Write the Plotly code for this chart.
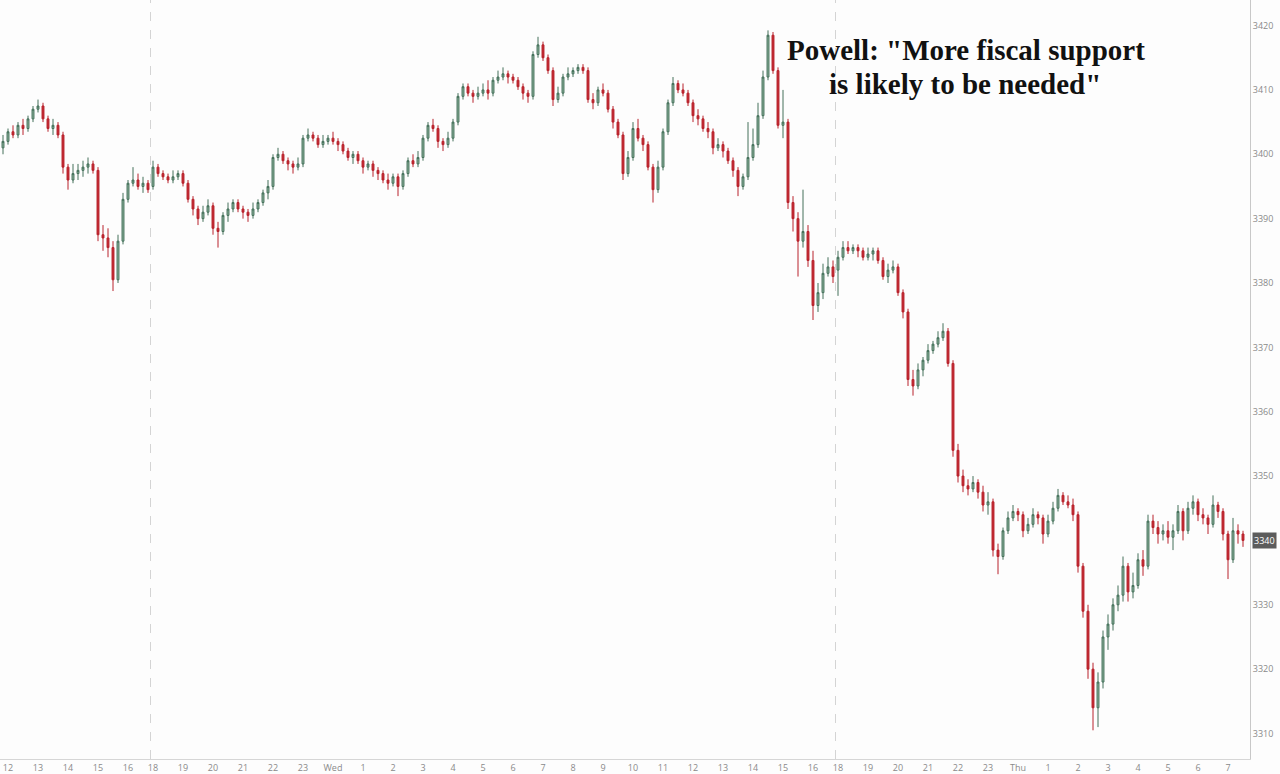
import pandas as pd
import plotly.graph_objects as go

# ---- data (10-minute bars) ----
opens = [
3401.0,3402.0,3403.5,3403.0,3404.5,3404.0,3405.5,3407.0,3407.5,3405.5,
3404.0,3404.5,3403.0,3398.0,3396.0,3397.0,3397.5,3398.0,3398.5,3397.5,
3387.5,3387.0,3385.5,3380.5,3386.5,3393.0,3395.5,3396.0,3395.0,3395.5,
3395.0,3398.0,3397.0,3396.5,3396.0,3396.5,3397.0,3395.5,3393.0,3391.5,
3390.0,3391.0,3392.0,3388.5,3388.0,3390.5,3391.5,3392.5,3391.5,3391.0,
3390.5,3391.5,3392.5,3394.0,3395.0,3399.5,3400.0,3399.0,3398.5,3398.0,
3398.5,3402.5,3403.0,3402.5,3401.5,3402.0,3402.5,3402.0,3401.5,3400.5,
3399.5,3400.0,3399.0,3398.0,3398.5,3397.5,3397.0,3396.0,3395.5,3396.5,
3395.0,3397.0,3399.0,3398.5,3399.5,3402.5,3404.5,3404.0,3402.0,3401.5,
3402.5,3405.0,3409.0,3410.5,3409.5,3409.0,3409.5,3410.0,3409.5,3411.5,
3412.0,3412.5,3412.0,3411.5,3410.5,3409.5,3409.0,3415.5,3417.0,3415.0,
3413.0,3408.5,3409.5,3412.0,3412.5,3413.0,3413.5,3413.0,3408.5,3408.0,
3410.0,3409.5,3407.0,3405.0,3403.0,3397.0,3399.5,3404.0,3402.5,3401.5,
3398.0,3394.5,3398.0,3403.5,3408.0,3411.0,3410.0,3409.5,3408.0,3406.0,
3405.5,3404.0,3403.5,3401.0,3401.5,3400.5,3399.0,3397.5,3395.0,3396.5,
3399.5,3401.5,3406.0,3412.0,3418.5,3413.0,3404.5,3405.0,3392.5,3390.0,
3386.5,3388.0,3383.5,3376.5,3378.5,3381.5,3382.5,3382.0,3384.0,3385.5,
3385.0,3385.5,3385.0,3384.0,3384.5,3385.0,3383.5,3381.0,3382.0,3382.5,
3378.5,3375.5,3365.0,3364.0,3366.5,3368.0,3369.5,3370.5,3371.5,3372.5,
3367.5,3354.0,3350.0,3348.5,3348.0,3349.0,3347.5,3345.5,3346.0,3338.5,
3337.5,3341.5,3343.5,3344.5,3344.0,3341.5,3342.5,3344.0,3343.5,3341.0,
3343.0,3345.0,3347.0,3346.0,3345.5,3344.0,3336.0,3329.0,3320.0,3314.0,
3318.0,3325.0,3327.0,3330.0,3331.5,3336.0,3332.0,3333.0,3337.0,3336.0,
3343.0,3342.0,3341.0,3341.5,3340.5,3341.5,3344.5,3341.5,3345.0,3346.0,
3344.0,3343.5,3342.5,3345.5,3344.5,3341.0,3337.0,3341.5,3341.0]

highs = [
3403.0,3404.0,3404.5,3405.0,3405.5,3406.0,3407.5,3408.5,3408.0,3406.0,
3405.5,3405.0,3403.5,3398.5,3398.5,3398.5,3399.0,3399.5,3399.0,3398.0,
3389.0,3388.5,3386.5,3387.5,3394.0,3396.0,3398.0,3397.0,3396.5,3396.0,
3399.0,3398.5,3397.5,3397.0,3397.5,3397.5,3397.5,3396.0,3393.5,3392.0,
3392.0,3393.0,3392.5,3389.5,3391.0,3392.5,3393.0,3393.0,3392.0,3391.5,
3392.5,3393.0,3394.5,3396.0,3400.0,3401.0,3400.5,3399.5,3399.0,3399.5,
3403.0,3404.0,3403.5,3403.0,3403.0,3403.0,3403.5,3402.5,3402.0,3401.0,
3400.5,3400.5,3399.5,3399.0,3399.0,3398.0,3397.5,3397.0,3397.0,3397.0,
3397.5,3399.5,3400.0,3400.5,3403.0,3405.0,3405.5,3404.5,3402.5,3403.5,
3405.5,3409.5,3411.0,3411.0,3410.0,3410.5,3411.0,3411.5,3412.0,3413.0,
3413.5,3413.0,3412.5,3412.0,3411.0,3410.0,3416.0,3418.25,3417.5,3415.5,
3413.5,3410.5,3412.5,3413.5,3413.5,3414.0,3414.0,3413.5,3409.5,3410.5,
3411.0,3410.0,3407.5,3405.5,3403.5,3400.5,3405.0,3405.5,3403.0,3402.0,
3398.5,3399.0,3404.0,3408.5,3412.0,3411.5,3411.0,3410.0,3408.5,3407.0,
3406.0,3405.0,3404.0,3402.5,3402.0,3401.0,3399.5,3398.0,3397.0,3405.0,
3404.0,3408.0,3413.0,3419.25,3419.0,3413.5,3410.0,3405.5,3393.5,3391.0,
3394.5,3389.0,3385.0,3380.0,3383.0,3384.0,3383.5,3385.0,3386.5,3386.5,
3386.0,3386.0,3385.5,3385.5,3385.5,3385.5,3384.0,3383.0,3383.5,3383.0,
3379.0,3376.0,3366.5,3367.5,3368.5,3370.5,3371.0,3372.5,3373.75,3373.0,
3368.0,3355.0,3351.0,3349.5,3350.0,3349.5,3348.5,3347.5,3346.5,3339.5,
3342.0,3344.5,3345.5,3345.0,3344.5,3343.5,3345.0,3344.5,3344.0,3344.0,
3346.0,3348.0,3347.5,3347.0,3346.5,3344.5,3336.5,3330.0,3321.0,3319.5,
3326.0,3328.5,3331.0,3333.0,3337.5,3336.5,3335.0,3338.0,3338.5,3344.0,
3344.0,3343.0,3342.5,3343.0,3342.5,3345.5,3345.0,3346.0,3347.0,3346.5,
3345.0,3344.0,3347.0,3346.0,3345.0,3341.5,3343.5,3342.5,3341.5]

lows = [
3400.0,3401.5,3402.5,3402.5,3403.0,3403.5,3405.0,3406.5,3405.0,3403.5,
3403.0,3402.5,3397.0,3394.5,3395.5,3396.0,3396.5,3397.0,3397.0,3386.5,
3385.0,3384.0,3378.75,3380.0,3386.0,3392.5,3395.0,3394.5,3394.0,3394.0,
3394.5,3396.5,3396.0,3395.5,3395.5,3396.0,3395.0,3392.5,3390.5,3389.0,
3389.5,3390.5,3387.5,3385.5,3387.5,3389.5,3391.0,3391.0,3390.0,3389.5,
3390.0,3391.0,3392.0,3393.0,3394.5,3399.0,3398.5,3397.5,3397.0,3397.5,
3398.0,3402.0,3402.0,3401.0,3401.0,3401.5,3401.5,3400.5,3400.0,3399.0,
3398.5,3398.5,3397.0,3397.5,3396.5,3396.0,3395.5,3394.5,3395.0,3393.5,
3394.5,3396.5,3398.0,3398.0,3399.0,3402.0,3403.5,3401.0,3400.5,3401.0,
3402.0,3404.5,3408.5,3409.0,3408.0,3408.5,3409.0,3408.5,3409.0,3411.0,
3411.5,3411.0,3411.0,3410.0,3408.5,3408.0,3408.5,3415.0,3414.5,3412.5,
3407.5,3408.0,3409.0,3411.5,3412.0,3412.5,3412.5,3408.0,3407.0,3407.5,
3409.0,3406.5,3404.0,3402.5,3396.0,3396.5,3399.0,3402.0,3400.5,3397.5,
3392.5,3394.0,3397.5,3403.0,3407.5,3409.5,3409.0,3407.5,3405.0,3404.5,
3403.5,3402.5,3400.0,3400.5,3399.5,3398.5,3396.5,3393.5,3394.5,3396.0,
3399.0,3401.0,3405.5,3411.5,3412.5,3404.0,3402.5,3391.5,3388.0,3381.0,
3385.5,3382.5,3374.25,3375.5,3377.5,3381.0,3380.0,3378.0,3383.5,3384.5,
3384.5,3384.0,3383.5,3383.5,3383.5,3383.0,3380.5,3380.0,3381.5,3378.0,
3374.5,3364.0,3362.5,3363.5,3365.5,3367.5,3369.0,3370.0,3371.0,3367.0,
3353.0,3349.0,3347.5,3347.0,3347.5,3346.5,3344.5,3344.0,3337.5,3334.75,
3337.0,3341.0,3343.0,3343.0,3340.5,3341.0,3342.0,3342.5,3339.5,3340.5,
3342.5,3344.5,3345.5,3345.0,3343.0,3335.0,3328.0,3318.5,3310.5,3311.0,
3317.0,3323.0,3326.0,3329.0,3330.5,3330.5,3331.0,3332.5,3334.5,3335.5,
3341.0,3339.5,3340.0,3339.5,3338.5,3341.0,3340.0,3341.0,3344.0,3343.0,
3342.5,3341.0,3342.0,3343.5,3340.0,3334.0,3336.5,3339.5,3339.0]

closes = [
3402.0,3403.5,3403.0,3404.5,3404.0,3405.5,3407.0,3407.5,3405.5,3404.0,
3404.5,3403.0,3398.0,3396.0,3397.0,3397.5,3398.0,3398.5,3397.5,3387.5,
3387.0,3385.5,3380.5,3386.5,3393.0,3395.5,3396.0,3395.0,3395.5,3394.5,
3398.0,3397.0,3396.5,3396.0,3396.5,3397.0,3395.5,3393.0,3391.5,3390.0,
3391.0,3392.0,3388.5,3388.0,3390.5,3391.5,3392.5,3391.5,3391.0,3390.5,
3391.5,3392.5,3394.0,3395.0,3399.5,3400.0,3399.0,3398.5,3398.0,3398.5,
3402.5,3403.0,3402.5,3401.5,3402.0,3402.5,3402.0,3401.5,3400.5,3399.5,
3400.0,3399.0,3398.0,3398.5,3397.5,3397.0,3396.0,3395.5,3396.5,3395.0,
3397.0,3399.0,3398.5,3399.5,3402.5,3404.5,3404.0,3402.0,3401.5,3402.5,
3405.0,3409.0,3410.5,3409.5,3409.0,3409.5,3410.0,3409.5,3411.5,3412.0,
3412.5,3412.0,3411.5,3410.5,3409.5,3409.0,3415.5,3417.0,3415.0,3413.0,
3408.5,3409.5,3412.0,3412.5,3413.0,3413.5,3413.0,3408.5,3408.0,3410.0,
3409.5,3407.0,3405.0,3403.0,3397.0,3399.5,3404.0,3402.5,3401.5,3398.0,
3394.5,3398.0,3403.5,3408.0,3411.0,3410.0,3409.5,3408.0,3406.0,3405.5,
3404.0,3403.5,3401.0,3401.5,3400.5,3399.0,3397.5,3395.0,3396.5,3399.5,
3401.5,3406.0,3412.0,3418.5,3413.0,3404.5,3405.0,3392.5,3390.0,3386.5,
3388.0,3383.5,3376.5,3378.5,3381.5,3382.5,3381.0,3384.0,3385.5,3385.0,
3385.5,3385.0,3384.0,3384.5,3385.0,3383.5,3381.0,3382.0,3382.5,3378.5,
3375.5,3365.0,3364.0,3366.5,3368.0,3369.5,3370.5,3371.5,3372.5,3367.5,
3354.0,3350.0,3348.5,3348.0,3349.0,3347.5,3345.5,3346.0,3338.5,3337.5,
3341.5,3343.5,3344.5,3344.0,3341.5,3342.5,3344.0,3343.5,3341.0,3343.0,
3345.0,3347.0,3346.0,3345.5,3344.0,3336.0,3329.0,3320.0,3314.0,3318.0,
3325.0,3327.0,3330.0,3331.5,3336.0,3332.0,3333.0,3337.0,3336.0,3343.0,
3342.0,3341.0,3341.5,3340.5,3341.5,3344.5,3341.5,3345.0,3346.0,3344.0,
3343.5,3342.5,3345.5,3344.5,3341.0,3337.0,3341.5,3341.0,3340.0]

# trading sessions (start, end) of 10-minute bars; maintenance halt removed
sessions = [
    ("2020-10-06 11:50", "2020-10-06 16:10"), ("2020-10-06 16:30", "2020-10-06 16:50"),
    ("2020-10-06 18:00", "2020-10-07 16:10"), ("2020-10-07 16:30", "2020-10-07 16:50"),
    ("2020-10-07 18:00", "2020-10-08 07:30"),
]
session_breaks = ["2020-10-06 18:00", "2020-10-07 18:00"]
y_ticks = [3310, 3320, 3330, 3340, 3350, 3360, 3370, 3380, 3390, 3400, 3410, 3420]
headline = ['Powell: "More fiscal support', 'is likely to be needed"']

times = []
for s, e in sessions:
    times.extend(pd.date_range(s, e, freq="10min"))
idx = list(range(len(times)))

tickvals, ticktext = [], []
for i, t in enumerate(times):
    if t.minute == 0:
        tickvals.append(i)
        ticktext.append(t.strftime("%a") if t.hour == 0 else str(t.hour))

break_pos = [times.index(pd.Timestamp(b)) - 0.5 for b in session_breaks]

fig = go.Figure()
fig.add_trace(go.Candlestick(
    x=idx, open=opens, high=highs, low=lows, close=closes,
    increasing=dict(line=dict(color="#44705a", width=1), fillcolor="#8db39b"),
    decreasing=dict(line=dict(color="#b8232c", width=1), fillcolor="#c4262f"),
    whiskerwidth=0, hoverinfo="skip", showlegend=False,
))

for bp in break_pos:
    fig.add_shape(type="line", x0=bp, x1=bp, y0=0, y1=1, xref="x", yref="paper",
                  line=dict(color="#d4d4d4", width=1, dash="dash"))

fig.add_annotation(x=966 / 1250, y=1 - 50 / 763, xref="paper", yref="paper",
                   text="<b>" + headline[0] + "</b>", showarrow=False,
                   font=dict(family="Liberation Serif", size=29, color="#111111"),
                   xanchor="center", yanchor="middle")
fig.add_annotation(x=965 / 1250, y=1 - 84 / 763, xref="paper", yref="paper",
                   text="<b>" + headline[1] + "</b>", showarrow=False,
                   font=dict(family="Liberation Serif", size=29, color="#111111"),
                   xanchor="center", yanchor="middle")

# last price tag
fig.add_annotation(x=1.0, y=closes[-1], xref="paper", yref="y", text=str(int(closes[-1])),
                   showarrow=False, xanchor="left", yanchor="middle", xshift=2,
                   font=dict(family="Open Sans", size=9, color="#ffffff"),
                   bgcolor="#5c5c5c", borderpad=1)

fig.update_layout(
    width=1280, height=774,
    margin=dict(l=0, r=30, t=0, b=11),
    paper_bgcolor="#fdfdfd", plot_bgcolor="#fdfdfd",
    boxgap=0.45,
    xaxis=dict(range=[-0.6, 249.4], tickvals=tickvals, ticktext=ticktext,
               showgrid=False, zeroline=False, showline=True, linecolor="#d6d6d6",
               ticks="", ticklabelstandoff=0,
               tickfont=dict(family="Open Sans", size=9, color="#8a8a8a"),
               rangeslider=dict(visible=False), fixedrange=True),
    yaxis=dict(range=[3306.04, 3423.97], side="right", tickvals=y_ticks,
               showgrid=False, zeroline=False, showline=True, linecolor="#c8c8c8",
               ticks="", tickfont=dict(family="Open Sans", size=9, color="#8a8a8a"),
               fixedrange=True),
    font=dict(family="Open Sans"),
)

fig.write_html("out.html", config={"displayModeBar": False},
               post_script="document.body.style.margin='0';document.body.style.overflow='hidden';")
